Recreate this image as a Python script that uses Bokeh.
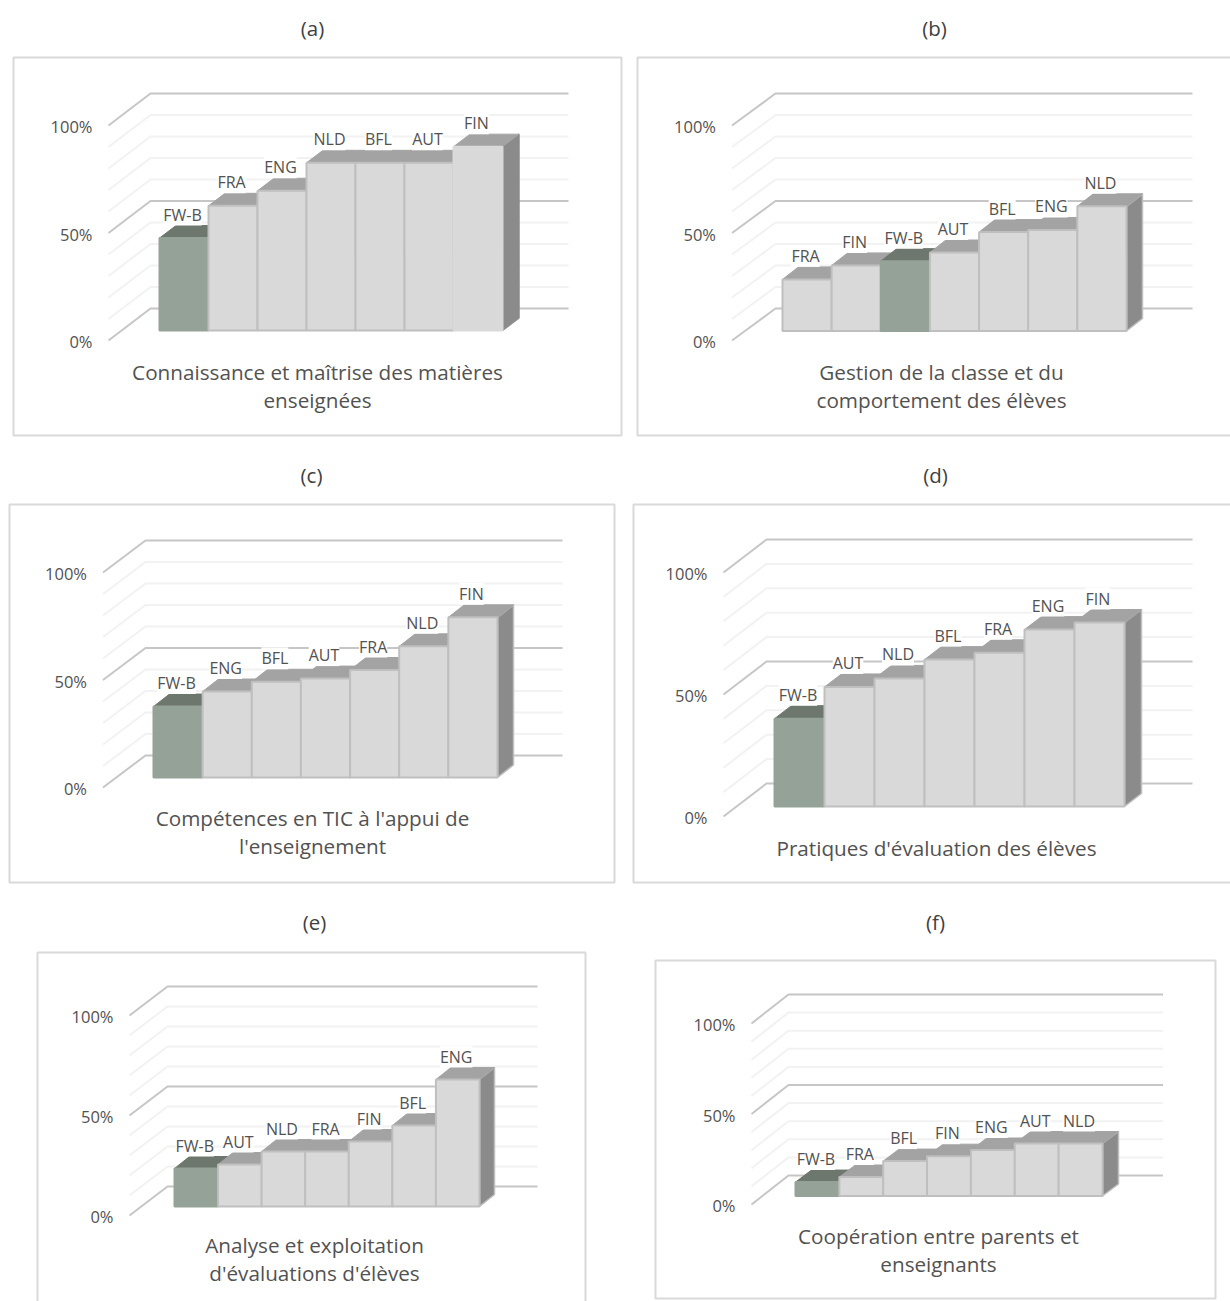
from bokeh.embed import file_html
from bokeh.models import Range1d
from bokeh.plotting import figure
from bokeh.resources import INLINE
from bokeh.core.properties import value

WIDTH, HEIGHT = 1230, 1301

# Share of teachers per country and competence area (percent)
cats_a = ["FW-B", "FRA", "ENG", "NLD", "BFL", "AUT", "FIN"]
vals_a = [43, 58, 65, 78, 78, 78, 85.5]
cats_b = ["FRA", "FIN", "FW-B", "AUT", "BFL", "ENG", "NLD"]
vals_b = [24, 30.5, 32.5, 36.5, 46, 47, 58]
cats_c = ["FW-B", "ENG", "BFL", "AUT", "FRA", "NLD", "FIN"]
vals_c = [33, 40, 44.5, 46, 50, 61, 74.5]
cats_d = ["FW-B", "AUT", "NLD", "BFL", "FRA", "ENG", "FIN"]
vals_d = [36, 49, 52.5, 60.2, 63, 72.5, 75.4]
cats_e = ["FW-B", "AUT", "NLD", "FRA", "FIN", "BFL", "ENG"]
vals_e = [19, 21, 27.5, 27.5, 32.5, 40.5, 63.5]
cats_f = ["FW-B", "FRA", "BFL", "FIN", "ENG", "AUT", "NLD"]
vals_f = [7.7, 10.5, 19.3, 22, 25.4, 29, 29]

letters = ["(a)", "(b)", "(c)", "(d)", "(e)", "(f)"]
subtitles = [
    ["Connaissance et maîtrise des matières", "enseignées"],
    ["Gestion de la classe et du", "comportement des élèves"],
    ["Compétences en TIC à l'appui de", "l'enseignement"],
    ["Pratiques d'évaluation des élèves"],
    ["Analyse et exploitation", "d'évaluations d'élèves"],
    ["Coopération entre parents et", "enseignants"],
]
tick_values = [0, 50, 100]
tick_labels = ["0%", "50%", "100%"]
grid_values = [0, 10, 20, 30, 40, 50, 60, 70, 80, 90, 100]

# Page geometry of each panel, in pixels
PANELS = [
    dict(cats=cats_a, vals=vals_a, frame=(13, 57, 621, 435), wall=108, back=150, y0=340, y100=125, rise=32,
         bar0=159, bar1=502, base=330, end=568, dx=16.5, dy=12.5, title=(312, 27), sub=(317, 371), plain=[6]),
    dict(cats=cats_b, vals=vals_b, frame=(637, 57, 1245, 435), wall=731.5, back=775, y0=340, y100=125, rise=32,
         bar0=782, bar1=1126, base=330.5, end=1192, dx=16, dy=12.5, title=(934, 27), sub=(941, 371), plain=[]),
    dict(cats=cats_c, vals=vals_c, frame=(9, 504, 614, 882), wall=102.5, back=145, y0=787, y100=572, rise=32,
         bar0=153, bar1=497, base=777, end=562, dx=16, dy=12.5, title=(311, 474), sub=(312, 817), plain=[]),
    dict(cats=cats_d, vals=vals_d, frame=(633, 504, 1245, 882), wall=723, back=766, y0=816, y100=572, rise=33,
         bar0=774, bar1=1124, base=806, end=1192, dx=17, dy=13, title=(935, 474), sub=(936, 847), plain=[]),
    dict(cats=cats_e, vals=vals_e, frame=(37, 952, 585, 1315), wall=129, back=167, y0=1215, y100=1015, rise=29,
         bar0=174, bar1=479, base=1206, end=537, dx=15, dy=12, title=(314, 921), sub=(314, 1244), plain=[]),
    dict(cats=cats_f, vals=vals_f, frame=(655, 960, 1215, 1298), wall=751, back=788, y0=1204, y100=1023, rise=29,
         bar0=795, bar1=1102, base=1195.5, end=1162.5, dx=16, dy=12, title=(935, 921), sub=(938, 1235), plain=[]),
]

FONT = value("Open Sans")
TEXT = "#525252"
FRONT, TOP, SIDE, EDGE = "#d9d9d9", "#a3a3a3", "#8b8b8b", "#bfbfbf"
FRONT_HL, TOP_HL = "#95a298", "#6d776d"
MAJOR, MINOR = "#c6c6c6", "#f2f2f2"

p = figure(width=WIDTH, height=HEIGHT, output_backend="svg", toolbar_location=None,
           x_range=Range1d(0, WIDTH), y_range=Range1d(HEIGHT, 0),
           x_axis_type=None, y_axis_type=None, min_border=0,
           outline_line_color=None, background_fill_color="white")
p.grid.visible = False

for n, g in enumerate(PANELS):
    # Each panel has its own scales: x counts bar slots, y is percent above the bar base
    w = (g["bar1"] - g["bar0"]) / len(g["vals"])
    unit = (g["y0"] - g["y100"]) / 100
    xn, yn = f"slot{n}", f"pct{n}"
    p.extra_x_ranges[xn] = Range1d(-g["bar0"] / w, (WIDTH - g["bar0"]) / w)
    p.extra_y_ranges[yn] = Range1d((g["base"] - HEIGHT) / unit, g["base"] / unit)
    to_slot = lambda px, b=g["bar0"], s=w: (px - b) / s
    ddx, ddy = g["dx"] / w, g["dy"] / unit
    zero = (g["base"] - g["y0"]) / unit
    rise = g["rise"] / unit
    kw = dict(x_range_name=xn, y_range_name=yn)

    x0, y0, x1, y1 = g["frame"]
    p.quad(left=[x0], right=[x1], top=[y0], bottom=[y1], fill_color="white",
           line_color="#d9d9d9", line_width=2)

    # Back wall and side wall gridlines
    for v in grid_values:
        major = v in tick_values
        p.line([to_slot(g["wall"]), to_slot(g["back"]), to_slot(g["end"])],
               [v + zero, v + zero + rise, v + zero + rise],
               line_color=MAJOR if major else MINOR, line_width=2, **kw)

    for lab, v in zip(tick_labels, tick_values):
        p.text([to_slot(g["wall"])], [v + zero], text=[lab], text_font=FONT, text_font_size="16.5px",
               text_color=TEXT, text_align="right", text_baseline="middle", x_offset=-16, y_offset=1, **kw)

    # Bars from left to right, so each one overlaps its neighbour's side
    for i, (cat, v) in enumerate(zip(g["cats"], g["vals"])):
        hl = cat == "FW-B"
        plain = i in g["plain"]
        front, top = (FRONT_HL, TOP_HL) if hl else (FRONT, TOP)
        edge = front if (hl or plain) else EDGE
        p.patch([i + 1, i + 1 + ddx, i + 1 + ddx, i + 1], [0, ddy, v + ddy, v],
                fill_color=SIDE, line_color=SIDE if plain or hl else EDGE, line_width=1.5, **kw)
        p.patch([i, i + 1, i + 1 + ddx, i + ddx], [v, v, v + ddy, v + ddy],
                fill_color=top, line_color=top, line_width=1, **kw)
        p.quad(left=[i], right=[i + 1], bottom=[0], top=[v], fill_color=front,
               line_color=edge, line_width=2, **kw)

    for i, (cat, v) in enumerate(zip(g["cats"], g["vals"])):
        p.text([i + 0.5], [v + ddy], text=[cat], text_font=FONT, text_font_size="16px", text_color=TEXT,
               text_align="center", text_baseline="middle", x_offset=-1.5, y_offset=-11,
               background_fill_color="white", **kw)

    p.text([g["title"][0]], [g["title"][1]], text=[letters[n]], text_font=FONT, text_font_size="20.5px",
           text_color="#404040", text_align="center", text_baseline="middle")
    for k, line in enumerate(subtitles[n]):
        p.text([g["sub"][0]], [g["sub"][1] + 28 * k], text=[line], text_font=FONT, text_font_size="20.7px",
               text_color=TEXT, text_align="center", text_baseline="middle")

open("out.html", "w").write(file_html(p, INLINE))
